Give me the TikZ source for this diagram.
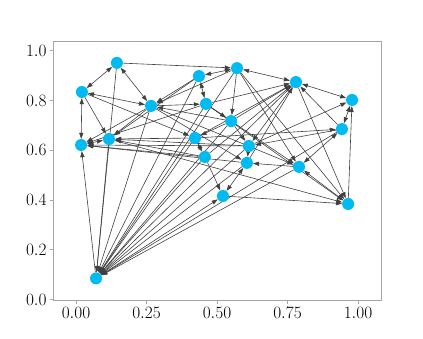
\documentclass[tikz,border=0pt]{standalone}
\usepackage{tikz}
\usetikzlibrary{arrows.meta,backgrounds}
\definecolor{nodeblue}{RGB}{0,187,242}
\definecolor{axisgray}{RGB}{165,165,165}

\begin{document}
\begin{tikzpicture}[
    x=1pt, y=1pt,
    vertex/.style={circle, fill=nodeblue, minimum size=12pt, inner sep=0pt},
    edge/.style={-{Triangle[length=6pt,width=4.2pt]}, black!75, line width=0.6pt},
    biedge/.style={{Triangle[length=6pt,width=4.2pt]}-{Triangle[length=6pt,width=4.2pt]}, black!75, line width=0.6pt},
    ticklabel/.style={inner sep=0pt, font=\fontsize{16}{19}\selectfont}
]
\useasboundingbox (0,0) rectangle (423,338);

% axes frame and ticks
\draw[axisgray, line width=0.8pt] (53,38) rectangle (381,297);
\foreach \v/\t in {0/0.00, 0.25/0.25, 0.5/0.50, 0.75/0.75, 1/1.00}
  \draw[axisgray, line width=0.8pt] ({76+282*\v},38) -- ++(0,-3.5)
    node[ticklabel, black, anchor=north, yshift=-3pt] {$\t$};
\foreach \v/\t in {0/0.0, 0.2/0.2, 0.4/0.4, 0.6/0.6, 0.8/0.8, 1/1.0}
  \draw[axisgray, line width=0.8pt] (53,{38.5+248.8*\v}) -- ++(-3.5,0)
    node[ticklabel, black, anchor=east, xshift=-2.5pt] {$\t$};

% graph in data coordinates
\begin{scope}[shift={(76,38.5)}, x=282pt, y=248.8pt]
\node[vertex] (n1)  at (0.021,0.834) {};
\node[vertex] (n2)  at (0.145,0.951) {};
\node[vertex] (n3)  at (0.018,0.621) {};
\node[vertex] (n4)  at (0.117,0.645) {};
\node[vertex] (n5)  at (0.266,0.778) {};
\node[vertex] (n6)  at (0.436,0.898) {};
\node[vertex] (n7)  at (0.461,0.786) {};
\node[vertex] (n8)  at (0.571,0.930) {};
\node[vertex] (n9)  at (0.550,0.717) {};
\node[vertex] (n10) at (0.422,0.649) {};
\node[vertex] (n11) at (0.457,0.573) {};
\node[vertex] (n12) at (0.613,0.617) {};
\node[vertex] (n13) at (0.606,0.549) {};
\node[vertex] (n14) at (0.780,0.874) {};
\node[vertex] (n15) at (0.979,0.802) {};
\node[vertex] (n16) at (0.943,0.685) {};
\node[vertex] (n17) at (0.791,0.533) {};
\node[vertex] (n18) at (0.521,0.416) {};
\node[vertex] (n19) at (0.965,0.384) {};
\node[vertex] (n20) at (0.071,0.085) {};
\end{scope}

\begin{scope}[on background layer]
% two-way links
\draw[biedge] (n1) -- (n2);
\draw[biedge] (n1) -- (n3);
\draw[biedge] (n1) -- (n5);
\draw[biedge] (n2) -- (n5);
\draw[biedge] (n3) -- (n4);
\draw[biedge] (n6) -- (n8);
\draw[biedge] (n6) -- (n7);
\draw[biedge] (n10) -- (n11);
\draw[biedge] (n12) -- (n13);
\draw[biedge] (n13) -- (n18);
\draw[biedge] (n14) -- (n15);
\draw[biedge] (n15) -- (n16);
\draw[biedge] (n16) -- (n17);
\draw[biedge] (n17) -- (n19);
\draw[biedge] (n8) -- (n14);
% one-way links
\draw[edge] (n1) -- (n4);
\draw[edge] (n1) -- (n10);
\draw[edge] (n2) -- (n8);
\draw[edge] (n2) -- (n20);
\draw[edge] (n20) -- (n3);
\draw[edge] (n20) -- (n18);
\draw[edge] (n4) -- (n20);
\draw[edge] (n4) -- (n19);
\draw[edge] (n5) -- (n4);
\draw[edge] (n5) -- (n3);
\draw[edge] (n5) -- (n7);
\draw[edge] (n5) -- (n13);
\draw[edge] (n5) -- (n20);
\draw[edge] (n5) -- (n17);
\draw[edge] (n6) -- (n5);
\draw[edge] (n6) -- (n4);
\draw[edge] (n6) -- (n20);
\draw[edge] (n7) -- (n3);
\draw[edge] (n7) -- (n14);
\draw[edge] (n7) -- (n17);
\draw[edge] (n7) -- (n9);
\draw[edge] (n7) -- (n20);
\draw[edge] (n7) -- (n19);
\draw[edge] (n8) -- (n5);
\draw[edge] (n8) -- (n9);
\draw[edge] (n8) -- (n17);
\draw[edge] (n8) -- (n20);
\draw[edge] (n8) -- (n19);
\draw[edge] (n9) -- (n5);
\draw[edge] (n9) -- (n10);
\draw[edge] (n9) -- (n12);
\draw[edge] (n9) -- (n14);
\draw[edge] (n9) -- (n20);
\draw[edge] (n10) -- (n4);
\draw[edge] (n10) -- (n14);
\draw[edge] (n10) -- (n16);
\draw[edge] (n10) -- (n20);
\draw[edge] (n11) -- (n3);
\draw[edge] (n11) -- (n4);
\draw[edge] (n11) -- (n18);
\draw[edge] (n11) -- (n14);
\draw[edge] (n11) -- (n20);
\draw[edge] (n12) -- (n4);
\draw[edge] (n12) -- (n15);
\draw[edge] (n12) -- (n3);
\draw[edge] (n12) -- (n20);
\draw[edge] (n13) -- (n3);
\draw[edge] (n13) -- (n14);
\draw[edge] (n13) -- (n20);
\draw[edge] (n14) -- (n12);
\draw[edge] (n14) -- (n19);
\draw[edge] (n14) -- (n20);
\draw[edge] (n16) -- (n14);
\draw[edge] (n16) -- (n12);
\draw[edge] (n16) -- (n20);
\draw[edge] (n17) -- (n13);
\draw[edge] (n17) -- (n20);
\draw[edge] (n18) -- (n19);
\draw[edge] (n19) -- (n15);
\end{scope}
\end{tikzpicture}
\end{document}
